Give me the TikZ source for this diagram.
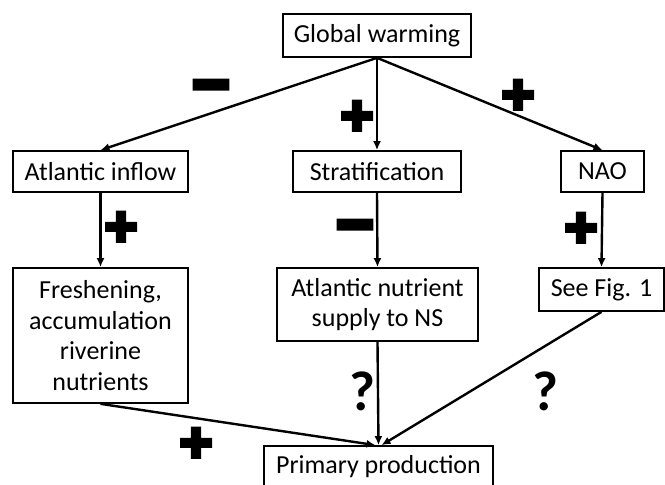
\documentclass[tikz,border=0pt]{standalone}
\usepackage{fontspec}
\setmainfont{Carlito}
\newfontfamily\signfont[FakeBold=7]{Liberation Sans}
\usetikzlibrary{arrows.meta}
\begin{document}
\begin{tikzpicture}[
    x=1pt, y=-1pt,
    box/.style={draw, line width=1.7pt, inner sep=0pt, align=center,
      font=\fontsize{26}{30.5}\selectfont},
    link/.style={line width=2.4pt, -{Latex[length=9pt,width=8pt]}},
    sign/.style={inner sep=0pt, font=\signfont\bfseries\fontsize{56}{56}\selectfont},
    query/.style={inner sep=0pt, font=\bfseries\fontsize{56}{56}\selectfont}
  ]
    \useasboundingbox (0,0) rectangle (665,485);
    \node [box, minimum width=188pt, minimum height=43pt] (gw) at (377,35.5) {Global warming};
    \node [box, minimum width=175pt, minimum height=41pt] (inflow) at (100.5,171.5) {Atlantic inflow};
    \node [box, minimum width=168pt, minimum height=41pt] (strat) at (377,171.5) {Stratification};
    \node [box, minimum width=83pt, minimum height=41pt] (nao) at (602.5,171.5) {NAO};
    \node [box, minimum width=175pt, minimum height=135pt] (fresh) at (100.5,335.5)
      {Freshening,\\accumulation\\riverine\\nutrients};
    \node [box, minimum width=201pt, minimum height=73pt] (supply) at (377.5,304.5)
      {Atlantic nutrient\\supply to NS};
    \node [box, minimum width=125pt, minimum height=43pt] (fig) at (601.5,289.5) {See Fig. 1};
    \node [box, minimum width=229pt, minimum height=42pt] (prod) at (378.5,467) {Primary production};

    \draw [link] (gw.south) -- (inflow.north);
    \draw [link] (gw.south) -- (strat.north);
    \draw [link] (gw.south) -- (nao.north);
    \draw [link] (inflow.south) -- (fresh.north);
    \draw [link] (strat.south) -- (supply.north);
    \draw [link] (nao.south) -- (fig.north);
    \draw [link] (fresh.south) -- ([xshift=-3pt]prod.north);
    \draw [link] (supply.south) -- (prod.north);
    \draw [link] (fig.south) -- ([xshift=3pt]prod.north);

    \node [sign, xscale=1.15, yscale=1.2] (m1) at (211,94) {−};
    \node [sign] (p1) at (357,118) {+};
    \node [sign] (p2) at (518,97) {+};
    \node [sign] (p3) at (121,229) {+};
    \node [sign, xscale=1.15, yscale=1.2] (m2) at (355,234) {−};
    \node [sign] (p4) at (581,230) {+};
    \node [sign] (p5) at (196,445) {+};
    \node [query] (q1) at (362,391) {?};
    \node [query] (q2) at (545,391) {?};
  \end{tikzpicture}
\end{document}
